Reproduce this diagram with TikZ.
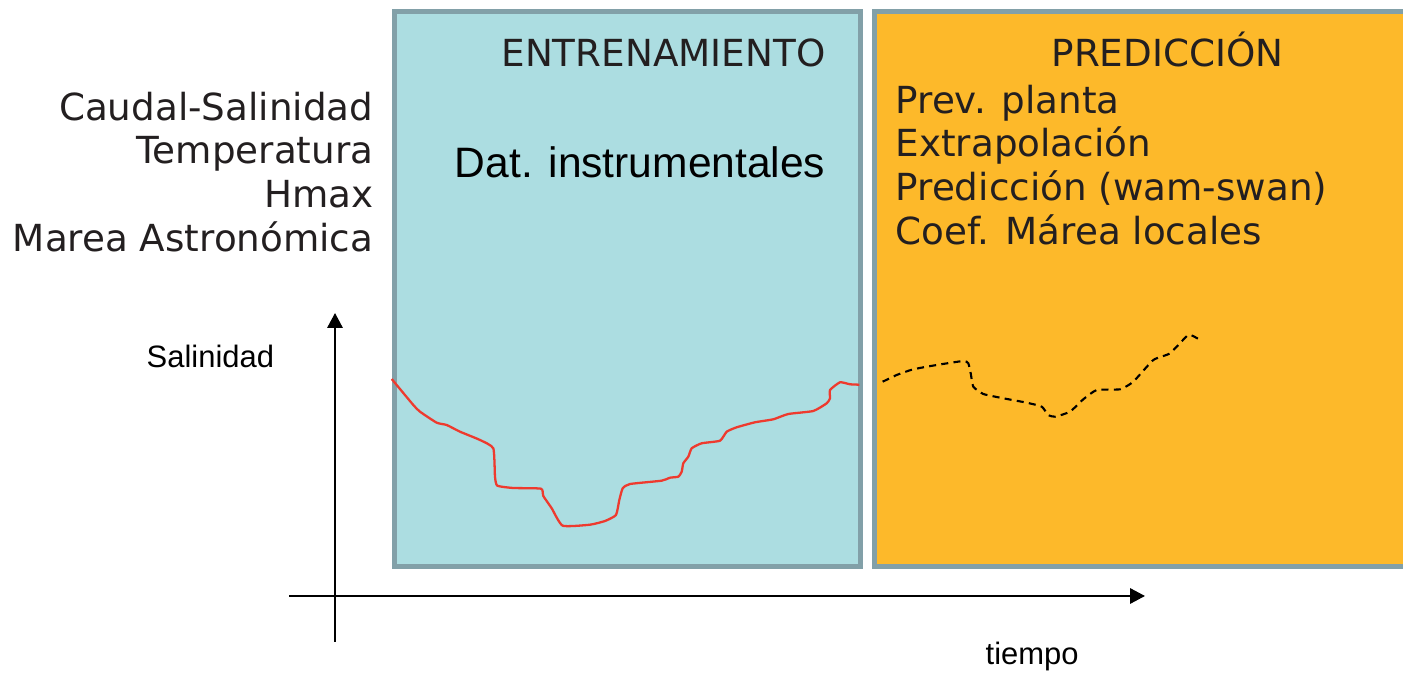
\documentclass[tikz,border=0pt]{standalone}
\usepackage{fontspec}
\setmainfont{DejaVu Sans}
\newfontfamily\arialfont{Liberation Sans}
\usetikzlibrary{arrows.meta}

\definecolor{cajaborde}{HTML}{82A0A8}
\definecolor{entrenafondo}{HTML}{ACDDE1}
\definecolor{prediccfondo}{HTML}{FDB92A}
\definecolor{curvarojo}{HTML}{EE3A2E}
\definecolor{textogris}{HTML}{231F20}

\tikzset{
  zona/.style={draw=cajaborde, line width=0.05cm, inner sep=0pt, outer sep=0pt,
    minimum height=5.555cm},
  titulo/.style={inner sep=0pt, text=textogris, font=\fontsize{10.6}{12.5}\selectfont},
  rotulo/.style={inner sep=0pt, text=black, font=\arialfont\fontsize{8.8}{10}\selectfont},
  eje/.style={line width=0.6pt, -{Triangle[length=4.2pt,width=4.3pt]}},
}

\begin{document}
\begin{tikzpicture}[x=0.01cm, y=-0.01cm]
			\useasboundingbox (0,0) rectangle (1403,674);
			\clip (0,0) rectangle (1403,674);

			% Bereiche
			\node[zona, fill=entrenafondo, minimum width=4.654cm] (entrena) at (627.5,289) {};
			\node[zona, fill=prediccfondo, minimum width=5.45cm] (predicc) at (1147.5,289) {};

			% Eingangsgroessen
			\node[titulo, align=right, anchor=north east] (variables) at (374,91)
				{Caudal-Salinidad\\Temperatura\\Hmax\\Marea Astronómica};

			% Beschriftung Training
			\node[titulo, anchor=base east] (tentrena) at (826,67) {ENTRENAMIENTO};
			\node[rotulo, anchor=base east, font=\arialfont\fontsize{12.1}{14}\selectfont] (datos) at (826,178) {Dat. instrumentales};

			% Beschriftung Vorhersage
			\node[titulo, anchor=base] (tpredicc) at (1167.5,67) {PREDICCIÓN};
			\node[titulo, align=left, anchor=north west] (fuentes) at (895,84)
				{Prev. planta\\Extrapolación\\Predicción (wam-swan)\\Coef. Márea locales};

			% Achsen
			\coordinate (ybot) at (335,642);
			\coordinate (ytop) at (335,313);
			\coordinate (xizq) at (289,596);
			\coordinate (xder) at (1145,596);
			\draw[eje] (ybot) -- (ytop);
			\draw[eje] (xizq) -- (xder);
			\node[rotulo, anchor=base west] (salinidad) at (146,368) {Salinidad};
			\node[rotulo, anchor=base west] (tiempo) at (985,665) {tiempo};

			% Messkurve
			\draw[curvarojo, line width=0.65pt, line join=round] plot[smooth, tension=0.3] coordinates {
				(391.7,379) (413.3,405) (420,411.7) (436.7,422.7) (446.7,425) (460,431.7)
				(480,440) (493.3,448.3) (495,476.7) (497.3,485.7) (513.3,488) (541,488.7)
				(543.3,496) (551.7,508.3) (562.7,525.7) (590,524.7) (605,521) (616,515)
				(619.3,500) (622.7,488.3) (630,484) (661.7,480.7) (670,477.7) (678.3,476.7)
				(681.7,471.7) (683.3,463.3) (688.3,456.7) (691.7,448.3) (701.7,443.3) (720,440.7)
				(726.7,431.7) (736.7,427.3) (755,422.3) (773.3,419.3) (788.3,414) (813.3,411)
				(826.7,403.3) (830,398.3) (830,390) (840,382.3) (850,384.3) (859.3,384.7)};

			% Vorhersagekurve
			\draw[black, line width=0.6pt, dash pattern=on 2pt off 1.5pt] plot[smooth, tension=0.3] coordinates {
				(882.7,381.7) (896.7,375) (913.3,369.3) (936.7,365) (963.3,361) (968.3,363.3)
				(970.7,373.3) (973.3,386.7) (983.3,394) (1003.3,398.3) (1026.7,402.7) (1041.7,406.7)
				(1048.3,415) (1055,416.7) (1070,411.7) (1083.3,399.3) (1096.7,390) (1120,389.3)
				(1133.3,381.7) (1153.3,360) (1170,353.3) (1188.3,335) (1198.3,339)};

		\end{tikzpicture}
\end{document}
